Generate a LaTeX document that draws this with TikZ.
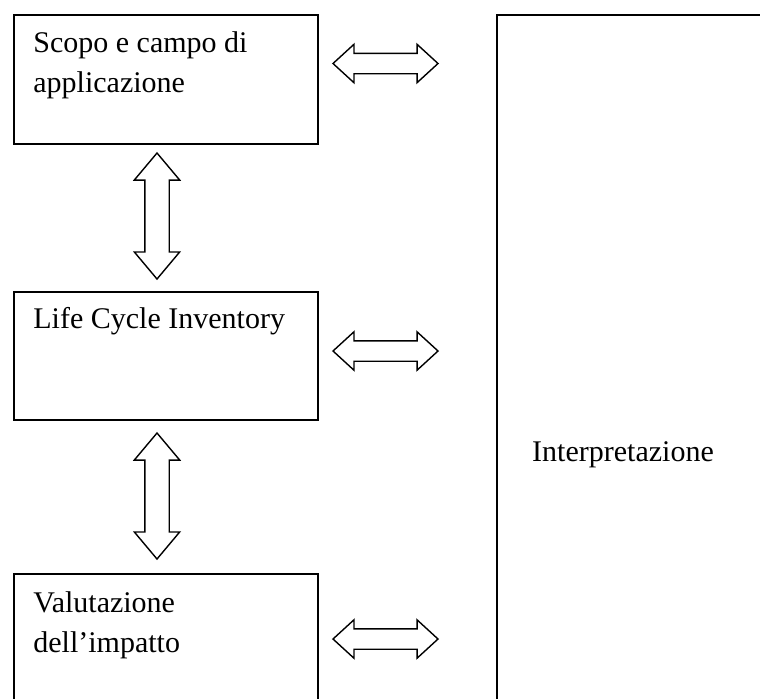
\documentclass[tikz,border=0pt]{standalone}
\usepackage{fontspec}
\setmainfont{Liberation Serif}
\usetikzlibrary{shapes.arrows}

\begin{document}
\begin{tikzpicture}[x=0.5pt, y=-0.5pt,
        fase/.style={draw=black, line width=0.75pt, rectangle, anchor=north west, inner sep=0pt},
        testo/.style={font=\fontsize{15}{20}\selectfont, align=left, anchor=base west, inner sep=0pt},
        frecciah/.style={draw=black, line width=0.7pt, double arrow, inner xsep=0pt, inner ysep=4.75pt,
            minimum height=52.5pt, double arrow head extend=4.5pt, double arrow tip angle=85},
        frecciav/.style={draw=black, line width=0.7pt, double arrow, rotate=90,
            inner xsep=0pt, inner ysep=5.75pt, minimum height=63pt,
            double arrow head extend=5.25pt, double arrow tip angle=80}]
            \clip (0, 0) rectangle (760, 698);

            % fasi a sinistra
            \node[fase, minimum width=152pt, minimum height=64.5pt] (scopo) at (13, 14) {};
            \node[fase, minimum width=152pt, minimum height=64pt] (inventario) at (13, 291) {};
            \node[fase, minimum width=152pt, minimum height=68.5pt] (impatto) at (13, 573) {};
            % base = ultima riga
            \node[testo] (scopotxt) at (33, 92) {Scopo e campo di\\applicazione};
            \node[testo] (inventariotxt) at (33, 328) {Life Cycle Inventory};
            \node[testo] (impattotxt) at (33, 652) {Valutazione\\dell’impatto};

            % interpretazione
            \node[fase, line width=1.2pt, minimum width=139.5pt, minimum height=350.5pt] (interp) at (496, 14) {};
            \node[testo, anchor=base] (interptxt) at (623, 461) {Interpretazione};

            % frecce
            \node[frecciah] (f1) at (385.5, 63.5) {};
            \node[frecciah] (f2) at (385.5, 351) {};
            \node[frecciah] (f3) at (385.5, 639) {};
            \node[frecciav] (f4) at (157, 216) {};
            \node[frecciav] (f5) at (157, 496) {};
        \end{tikzpicture}
\end{document}
